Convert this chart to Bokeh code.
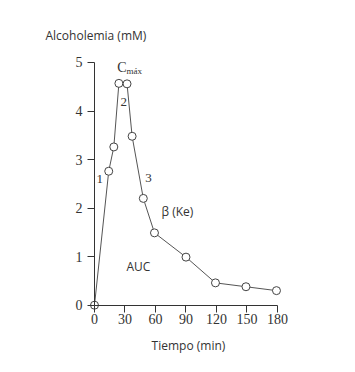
from bokeh.plotting import figure
from bokeh.models import Range1d, Label, FixedTicker
from bokeh.embed import file_html
from bokeh.resources import INLINE

# Data
tiempo = [0, 14, 19, 24, 32, 37, 48, 59, 90, 119, 149, 179]
alcoholemia = [0.0, 2.76, 3.26, 4.57, 4.56, 3.48, 2.2, 1.49, 0.99, 0.46, 0.38, 0.30]
x_ticks = [0, 30, 60, 90, 120, 150, 180]
y_ticks = [0, 1, 2, 3, 4, 5]

p = figure(width=340, height=356, output_backend="svg", toolbar_location=None,
           x_range=Range1d(-92.46, 241.97), y_range=Range1d(-1.057, 6.277),
           min_border=0)
p.outline_line_color = None
p.xgrid.visible = False
p.ygrid.visible = False
p.background_fill_color = "white"
p.border_fill_color = "white"

for ax in (p.xaxis[0], p.yaxis[0]):
    ax.fixed_location = 0
    ax.axis_line_color = "#333333"
    ax.major_tick_line_color = "#333333"
    ax.major_tick_in = 0
    ax.major_tick_out = 7
    ax.minor_tick_line_color = None
    ax.major_label_text_font = "Liberation Serif"
    ax.major_label_text_font_size = "14px"
    ax.major_label_text_color = "#333333"
p.xaxis.ticker = FixedTicker(ticks=x_ticks)
p.yaxis.ticker = FixedTicker(ticks=y_ticks)
p.xaxis.bounds = (0, 180)
p.yaxis.bounds = (0, 5)
p.xaxis.major_label_standoff = 2
p.yaxis.major_label_standoff = 5

p.line(tiempo, alcoholemia, line_color="#555555", line_width=1)
p.scatter(tiempo, alcoholemia, size=8, fill_color="white", line_color="#444444", line_width=1)

font = "Open Sans"
def lab(x, y, t, size="12px", align="left", base="middle", f=font):
    p.add_layout(Label(x=x, y=y, text=t, text_font=f, text_font_size=size,
                       text_align=align, text_baseline=base, text_color="#333333"))

lab(-48.2, 5.556, "Alcoholemia (mM)")
lab(22.4, 4.9, "C", size="14px", f="Liberation Serif")
lab(31.5, 4.82, "máx", size="9px", f="Liberation Serif")
lab(28.8, 4.19, "2", size="13px", align="center", f="Liberation Serif")
lab(5.2, 2.59, "1", size="13px", align="center", f="Liberation Serif")
lab(53, 2.62, "3", size="13px", align="center", f="Liberation Serif")
lab(65.9, 1.93, "β (Ke)")
lab(31.5, 0.8, "AUC")
lab(92.4, -0.84, "Tiempo (min)", align="center")

open("out.html", "w").write(file_html(p, INLINE))
